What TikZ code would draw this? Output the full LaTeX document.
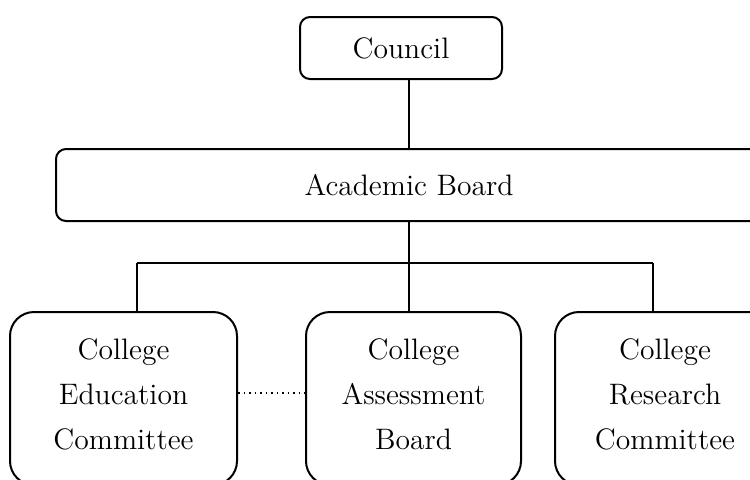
\documentclass[tikz,border=0pt]{standalone}
\usepackage{tikz}

\tikzset{every picture/.style={line width=0.75pt}}
\tikzset{
  unitbox/.style={draw, line width=1pt, rounded corners=5pt, align=center, inner sep=0pt,
    font=\fontsize{14.8}{22.5}\selectfont},
  collegebox/.style={unitbox, rounded corners=12pt, minimum width=#1, minimum height=86.5pt,
    text depth=4pt},
  link/.style={line width=0.75pt},
}

\begin{document}
\begin{tikzpicture}[x=0.5pt,y=0.5pt,yscale=-1,xscale=1]
\useasboundingbox (0,0) rectangle (750,479);

%Shape: Rounded Rect [id:council]
\node [unitbox, minimum width=101pt, minimum height=31pt] (council) at (401,48) {Council};
%Shape: Rounded Rect [id:board]
\node [unitbox, minimum width=353pt, minimum height=36pt] (board) at (409,185) {Academic Board};
%Shape: Rounded Rect [id:edu]
\node [collegebox=113.5pt] (edu) at (123.5,398.5) {College\\Education\\Committee};
%Shape: Rounded Rect [id:assess]
\node [collegebox=107.5pt] (assess) at (413.5,398.5) {College\\Assessment\\Board};
%Shape: Rounded Rect [id:research]
\node [collegebox=110pt] (research) at (665,398.5) {College\\Research\\Committee};

\coordinate (forkL) at (137,263);
\coordinate (forkR) at (653,263);

%Straight Lines
\draw [link] (board.north) -- (board.north |- council.south) ;
%Straight Lines
\draw [link] (board.south) -- (board.south |- assess.north) ;
\draw [link] (forkL) -- (forkR) ;
\draw [link] (forkL) -- (forkL |- edu.north) ;
\draw [link] (forkR) -- (forkR |- research.north) ;
%Straight Lines [dotted]
\draw [link, dotted] ([yshift=-2.75pt]edu.east) -- ([yshift=-2.75pt]assess.west) ;

\end{tikzpicture}
\end{document}
